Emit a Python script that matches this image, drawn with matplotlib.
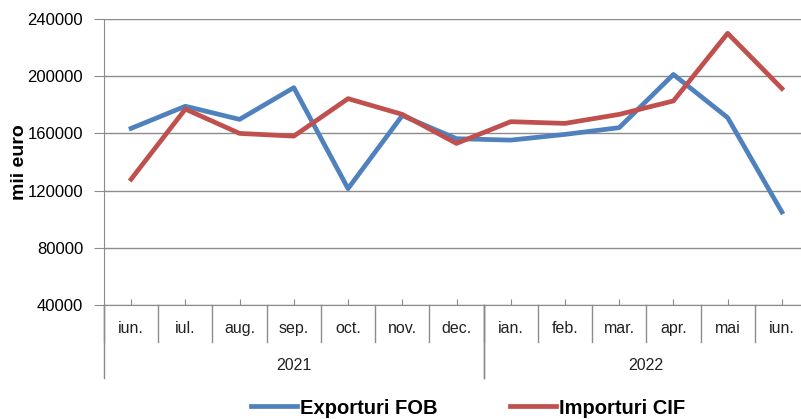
import matplotlib
matplotlib.use("Agg")
import matplotlib.pyplot as plt
import matplotlib.transforms as mtransforms

months = ["iun.", "iul.", "aug.", "sep.", "oct.", "nov.", "dec.",
          "ian.", "feb.", "mar.", "apr.", "mai", "iun."]
years = ["2021", "2022"]
year_spans = [(0, 7), (7, 13)]

exporturi = [163500, 179000, 169800, 192000, 121400, 172500, 156300,
             155300, 159300, 164000, 201200, 171000, 105000]
importuri = [128000, 177000, 160000, 158100, 184300, 173300, 153000,
             168200, 167000, 173300, 182700, 230000, 191400]

yticks = [40000, 80000, 120000, 160000, 200000, 240000]

fonts = ["Liberation Sans", "DejaVu Sans"]
plt.rcParams["font.family"] = fonts

fig = plt.figure(figsize=(8.01, 4.19), dpi=100)
ax = fig.add_axes([104 / 801, 114 / 419, 705 / 801, 286 / 419])

x = list(range(len(months)))
ax.plot(x, exporturi, color="#4F81BD", linewidth=3.4, label="Exporturi FOB")
ax.plot(x, importuri, color="#C0504D", linewidth=3.4, label="Importuri CIF")

ax.set_xlim(-0.5, len(months) - 0.5)
ax.set_ylim(40000, 240000)
ax.set_yticks(yticks)
ax.set_yticklabels([str(v) for v in yticks], fontsize=12)
ax.yaxis.grid(True, color="#8c8c8c", linewidth=1)
ax.set_axisbelow(True)

ax.set_xticks(x)
ax.set_xticklabels([])
ax.tick_params(axis="x", direction="in", length=4, color="#8c8c8c")
ax.tick_params(axis="y", direction="out", length=7, color="#8c8c8c", pad=8)

for s in ["top", "right"]:
    ax.spines[s].set_visible(False)
for s in ["left", "bottom"]:
    ax.spines[s].set_color("#8c8c8c")

ax.set_ylabel("mii euro", fontsize=14, fontweight="bold")
ax.yaxis.set_label_coords(-0.108, 0.5)

# category axis: month labels, year labels and separators below the plot
trans = mtransforms.blended_transform_factory(ax.transData, ax.transAxes)
for i, m in enumerate(months):
    ax.text(i, -0.082, m, transform=trans, ha="center", va="center",
            fontsize=11.5, color="#222222")
for k in range(len(months) + 1):
    ax.plot([k - 0.5, k - 0.5], [0, -0.13], transform=trans,
            color="#8c8c8c", linewidth=1, clip_on=False)
for (a, b), yr in zip(year_spans, years):
    ax.text((a + b - 1) / 2, -0.21, yr, transform=trans, ha="center",
            va="center", fontsize=11.5, color="#222222")
    for k in (a, b):
        ax.plot([k - 0.5, k - 0.5], [0, -0.255], transform=trans,
                color="#8c8c8c", linewidth=1, clip_on=False)

fig.legend(loc="center", bbox_to_anchor=(468 / 801, 1 - 408 / 419), ncol=2,
           frameon=False, handlelength=2.3, handletextpad=0.15,
           columnspacing=3.6,
           prop={"family": fonts, "weight": "bold", "size": 14.5})

fig.savefig("out.png", dpi=100)
